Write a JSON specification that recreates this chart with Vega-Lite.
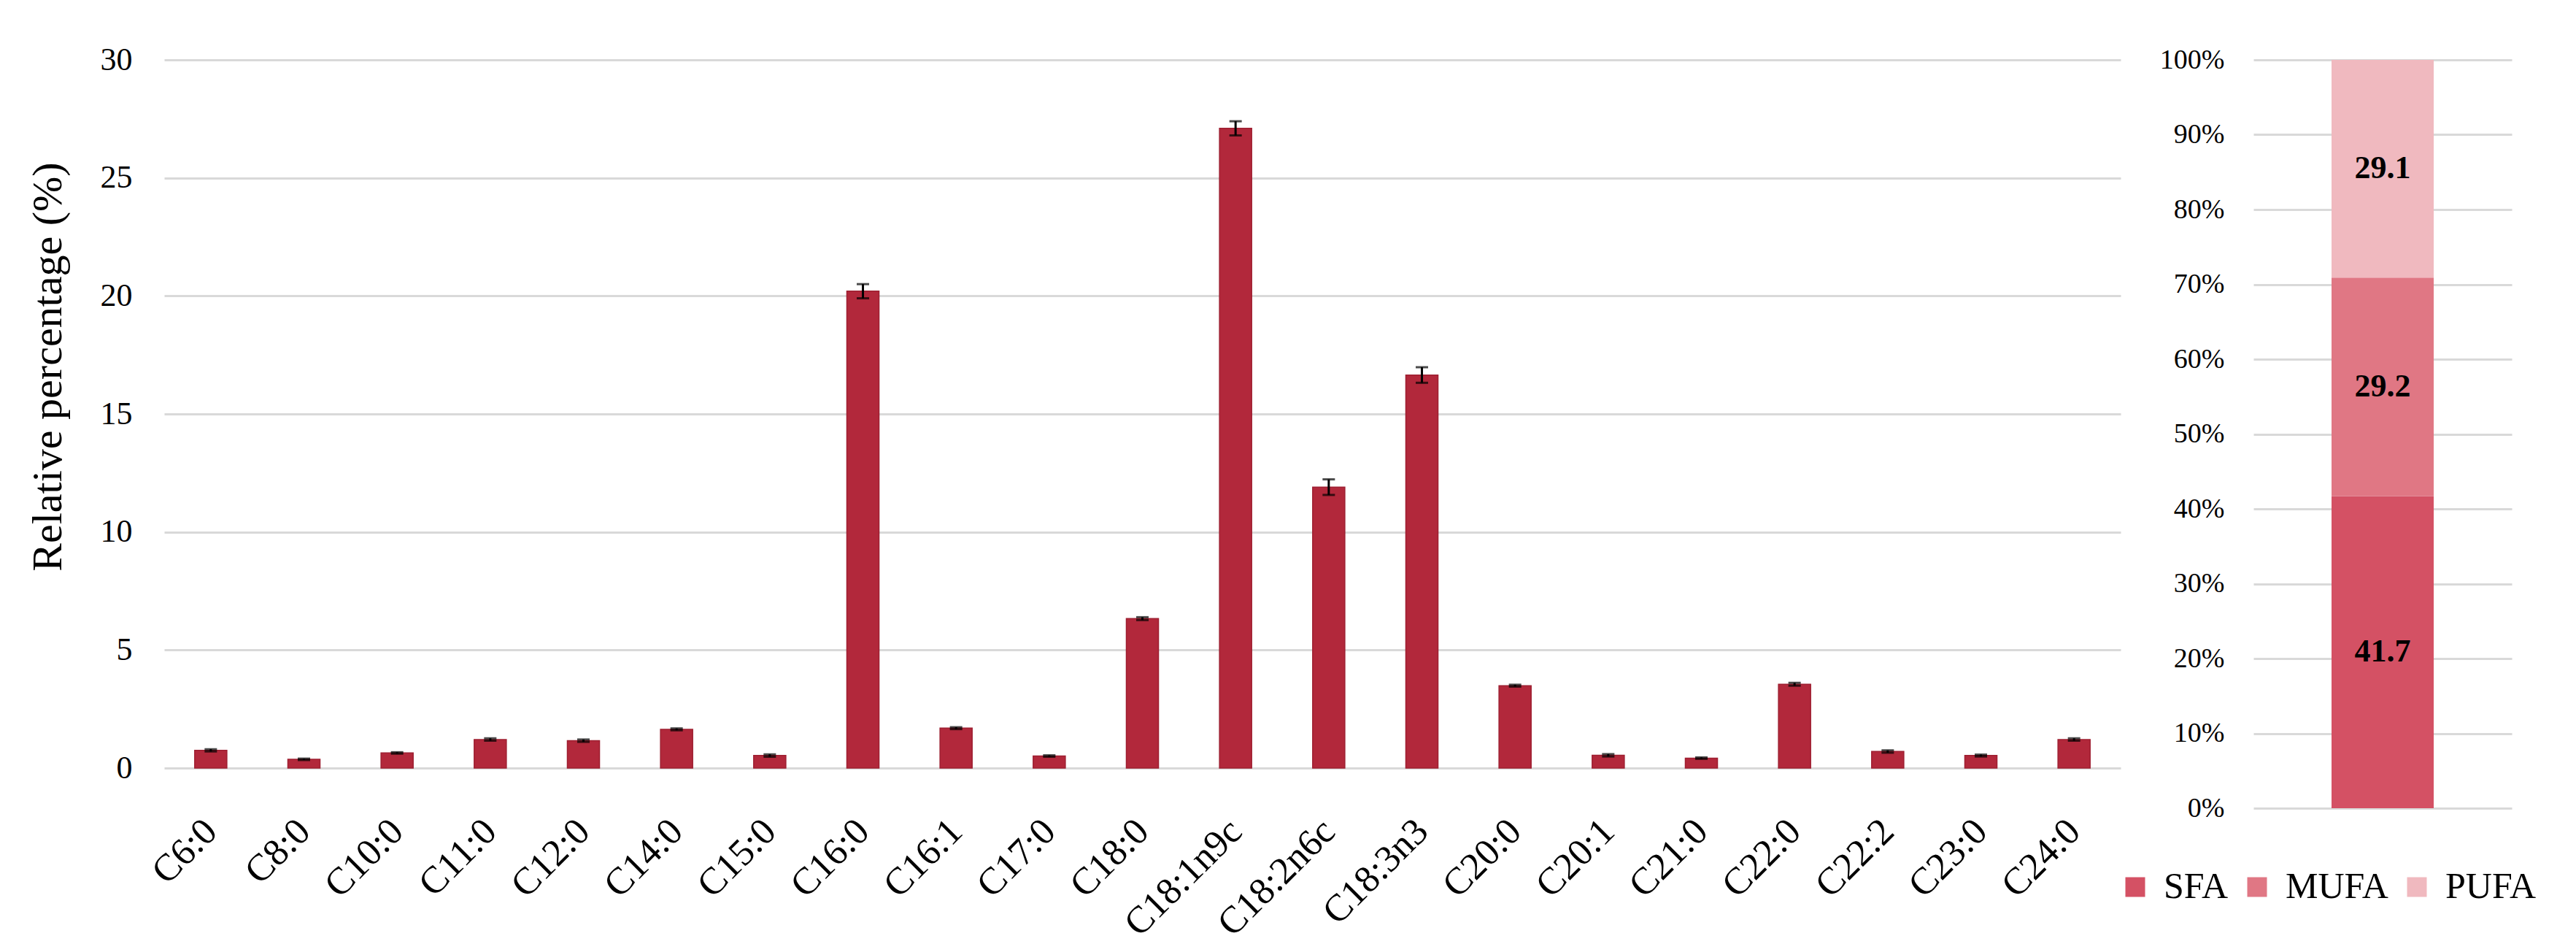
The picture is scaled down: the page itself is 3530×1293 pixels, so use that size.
{
  "$schema": "https://vega.github.io/schema/vega-lite/v6.json",
  "background": "white",
  "padding": {"left": 37, "top": 60, "right": 10, "bottom": 0},
  "config": {
    "font": "Liberation Serif",
    "view": {"stroke": null},
    "axis": {"gridColor": "#d9d9d9", "gridWidth": 3, "domain": false, "ticks": false, "labelColor": "#000", "titleColor": "#000", "labelFont": "Liberation Serif", "titleFont": "Liberation Serif", "titleFontWeight": "normal"},
    "legend": {"labelFont": "Liberation Serif", "labelColor": "#000"},
    "concat": {"spacing": 53}
  },
  "hconcat": [
    {
      "width": 2681,
      "height": 970,
      "data": {"values": [
        {"acid": "C6:0", "value": 0.75, "err": 0.05},
        {"acid": "C8:0", "value": 0.37, "err": 0.03},
        {"acid": "C10:0", "value": 0.64, "err": 0.03},
        {"acid": "C11:0", "value": 1.21, "err": 0.05},
        {"acid": "C12:0", "value": 1.16, "err": 0.05},
        {"acid": "C14:0", "value": 1.64, "err": 0.04},
        {"acid": "C15:0", "value": 0.53, "err": 0.05},
        {"acid": "C16:0", "value": 20.2, "err": 0.3},
        {"acid": "C16:1", "value": 1.69, "err": 0.04},
        {"acid": "C17:0", "value": 0.51, "err": 0.03},
        {"acid": "C18:0", "value": 6.33, "err": 0.06},
        {"acid": "C18:1n9c", "value": 27.1, "err": 0.3},
        {"acid": "C18:2n6c", "value": 11.9, "err": 0.33},
        {"acid": "C18:3n3", "value": 16.65, "err": 0.33},
        {"acid": "C20:0", "value": 3.49, "err": 0.04},
        {"acid": "C20:1", "value": 0.54, "err": 0.05},
        {"acid": "C21:0", "value": 0.42, "err": 0.03},
        {"acid": "C22:0", "value": 3.55, "err": 0.06},
        {"acid": "C22:2", "value": 0.7, "err": 0.05},
        {"acid": "C23:0", "value": 0.53, "err": 0.04},
        {"acid": "C24:0", "value": 1.21, "err": 0.05}
      ]},
      "layer": [
        {
          "mark": {"type": "bar", "color": "#B2283B", "stroke": "#9E1F31", "strokeWidth": 1.5},
          "encoding": {
            "x": {"field": "acid", "type": "nominal", "sort": null,
              "scale": {"paddingInner": 0.655, "paddingOuter": 0.3275},
              "axis": {"title": null, "labelAngle": -45, "labelAlign": "right", "labelBaseline": "middle", "labelFontSize": 52, "labelPadding": 78, "labelLimit": 0, "grid": false}},
            "y": {"field": "value", "type": "quantitative", "scale": {"domain": [0, 30]},
              "axis": {"title": "Relative percentage (%)", "titleFontSize": 58, "labelFontSize": 44, "values": [0, 5, 10, 15, 20, 25, 30], "labelPadding": 44, "titlePadding": 42, "titleY": 420}}
          }
        },
        {
          "mark": {"type": "errorbar", "ticks": true, "size": 17, "thickness": 3, "color": "#000"},
          "encoding": {
            "x": {"field": "acid", "type": "nominal", "sort": null},
            "y": {"field": "value", "type": "quantitative", "title": "Relative percentage (%)"},
            "yError": {"field": "err"}
          }
        }
      ]
    },
    {
      "width": 354,
      "height": 1025,
      "data": {"values": [
        {"type": "SFA", "value": 41.7},
        {"type": "MUFA", "value": 29.2},
        {"type": "PUFA", "value": 29.1}
      ]},
      "encoding": {
        "x": {"datum": "FA", "type": "nominal", "axis": null, "scale": {"paddingInner": 0, "paddingOuter": 0}},
        "order": {"field": "value", "type": "quantitative", "sort": "descending"}
      },
      "layer": [
        {
          "mark": {"type": "bar", "width": 140},
          "encoding": {
            "y": {"field": "value", "type": "quantitative", "stack": "normalize", "scale": {"domain": [0, 1]},
              "axis": {"format": ".0%", "values": [0, 0.1, 0.2, 0.3, 0.4, 0.5, 0.6, 0.7, 0.8, 0.9, 1], "title": null, "labelFontSize": 38, "labelPadding": 40}},
            "color": {"field": "type", "type": "nominal",
              "scale": {"domain": ["SFA", "MUFA", "PUFA"], "range": ["#D45164", "#E07784", "#F0B9BF"]},
              "legend": {"title": null, "orient": "none", "legendX": 2676, "legendY": 1108, "direction": "horizontal", "symbolType": "square", "symbolSize": 729, "symbolStrokeWidth": 0, "labelFontSize": 50, "labelOffset": 14, "columnPadding": 14}}
          }
        },
        {
          "mark": {"type": "text", "fontSize": 44, "fontWeight": "bold", "color": "#000"},
          "encoding": {
            "y": {"field": "value", "type": "quantitative", "stack": "normalize", "bandPosition": 0.5},
            "detail": {"field": "type"},
            "text": {"field": "value", "type": "quantitative", "format": ".1f"}
          }
        }
      ]
    }
  ]
}
